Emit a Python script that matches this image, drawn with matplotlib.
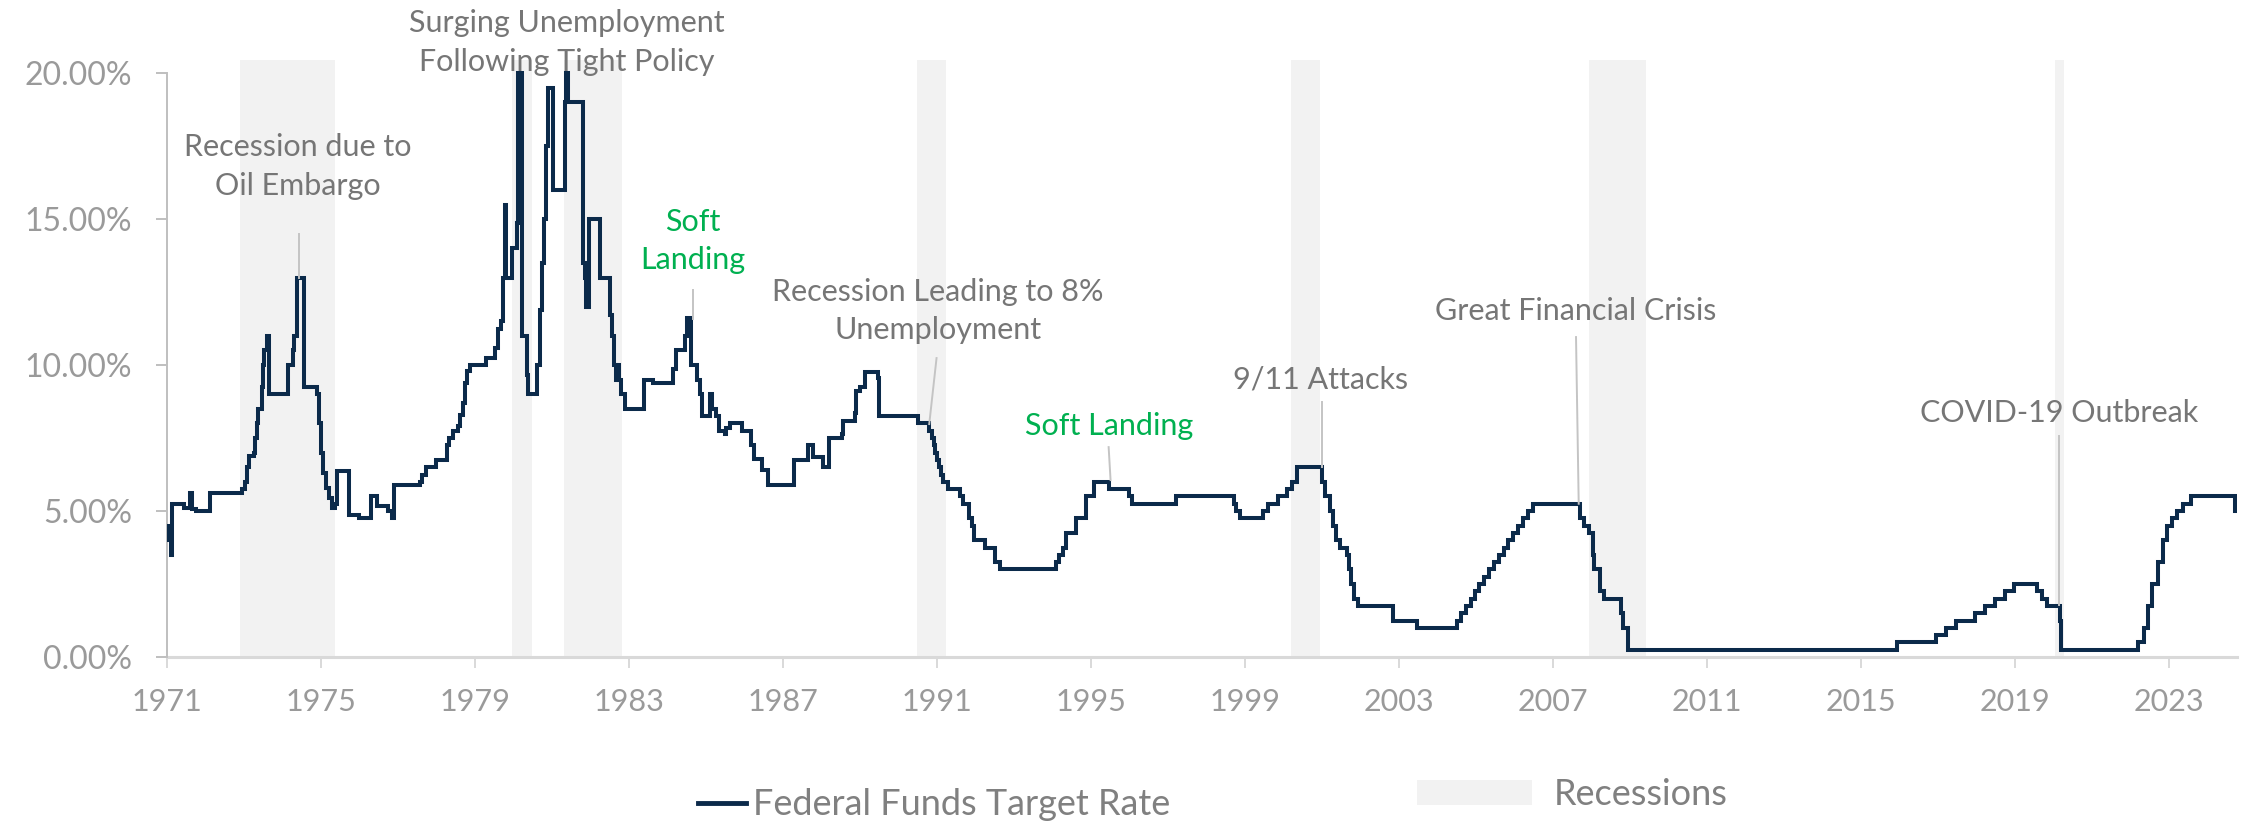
import matplotlib
matplotlib.use("Agg")
import matplotlib.pyplot as plt
from matplotlib.lines import Line2D
from matplotlib.patches import Patch

plt.rcParams["font.family"] = ["Lato", "DejaVu Sans"]

# change points of the target rate (decimal year, % level), held until next change
rate_dates = [
    1971.00, 1971.05, 1971.10, 1971.12, 1971.45, 1971.59, 1971.64, 1971.75,
    1972.12, 1972.96, 1973.03, 1973.08, 1973.14, 1973.25, 1973.29, 1973.34,
    1973.37, 1973.46, 1973.50, 1973.53, 1973.60, 1973.65, 1974.15, 1974.27,
    1974.30, 1974.37, 1974.55, 1974.89, 1974.95, 1975.00, 1975.05, 1975.12,
    1975.20, 1975.28, 1975.36, 1975.42, 1975.74, 1975.99, 1976.29, 1976.46,
    1976.75, 1976.85, 1976.90, 1977.57, 1977.62, 1977.72, 1978.00, 1978.28,
    1978.33, 1978.42, 1978.55, 1978.60, 1978.68, 1978.75, 1978.80, 1978.87,
    1979.29, 1979.52, 1979.60, 1979.68, 1979.73, 1979.77, 1979.80, 1979.97,
    1980.10, 1980.12, 1980.22, 1980.36, 1980.38, 1980.60, 1980.70, 1980.75,
    1980.80, 1980.85, 1980.90, 1981.04, 1981.33, 1981.37, 1981.41, 1981.80,
    1981.85, 1981.88, 1981.95, 1982.26, 1982.52, 1982.57, 1982.61, 1982.66,
    1982.70, 1982.74, 1982.80, 1982.90, 1983.40, 1983.63, 1984.15, 1984.22,
    1984.46, 1984.52, 1984.62, 1984.78, 1984.85, 1984.91, 1985.11, 1985.17,
    1985.26, 1985.34, 1985.50, 1985.52, 1985.62, 1985.94, 1986.18, 1986.26,
    1986.45, 1986.60, 1987.30, 1987.65, 1987.78, 1988.05, 1988.20, 1988.53,
    1988.57, 1988.86, 1988.90, 1989.00, 1989.12, 1989.46, 1989.49, 1990.50,
    1990.80, 1990.86, 1990.92, 1990.96, 1991.01, 1991.05, 1991.10, 1991.15,
    1991.28, 1991.59, 1991.67, 1991.84, 1991.91, 1991.95, 1992.26, 1992.50,
    1992.65, 1994.08, 1994.18, 1994.27, 1994.34, 1994.62, 1994.88, 1995.07,
    1995.48, 1995.99, 1996.06, 1997.21, 1998.71, 1998.78, 1998.86, 1999.48,
    1999.60, 1999.87, 2000.08, 2000.23, 2000.36, 2001.01, 2001.09, 2001.22,
    2001.29, 2001.36, 2001.48, 2001.65, 2001.70, 2001.76, 2001.83, 2001.93,
    2002.84, 2003.48, 2004.50, 2004.62, 2004.75, 2004.86, 2004.97, 2005.09,
    2005.22, 2005.34, 2005.48, 2005.60, 2005.72, 2005.84, 2005.96, 2006.09,
    2006.22, 2006.35, 2006.48, 2007.71, 2007.82, 2007.95, 2008.05, 2008.08,
    2008.21, 2008.32, 2008.77, 2008.83, 2008.96, 2015.95, 2016.95, 2017.21,
    2017.46, 2017.96, 2018.22, 2018.47, 2018.75, 2018.98, 2019.58, 2019.71,
    2019.84, 2020.17, 2020.21, 2022.21, 2022.35, 2022.46, 2022.57, 2022.72,
    2022.84, 2022.95, 2023.09, 2023.22, 2023.36, 2023.57, 2024.71, 2024.75,
]
rate_values = [
    4.50, 4.00, 3.50, 5.25, 5.12, 5.63, 5.06, 5.00,
    5.63, 5.75, 6.00, 6.50, 6.90, 7.00, 7.50, 8.00,
    8.50, 9.25, 10.00, 10.50, 11.00, 9.00, 10.00, 10.50,
    11.00, 13.00, 9.25, 9.00, 8.00, 7.00, 6.30, 5.80,
    5.45, 5.12, 5.25, 6.38, 4.88, 4.75, 5.50, 5.16,
    5.00, 4.75, 5.88, 6.00, 6.25, 6.50, 6.75, 7.25,
    7.50, 7.75, 7.90, 8.30, 8.70, 9.40, 9.80, 10.00,
    10.25, 10.60, 11.25, 11.50, 13.00, 15.50, 13.00, 14.00,
    14.85, 20.00, 11.00, 9.65, 9.00, 10.00, 11.90, 13.50,
    15.00, 17.50, 19.50, 16.00, 19.00, 20.00, 19.00, 13.50,
    13.00, 12.00, 15.00, 13.00, 11.70, 11.00, 10.00, 9.50,
    10.00, 9.50, 9.00, 8.50, 9.50, 9.38, 9.85, 10.50,
    11.00, 11.60, 10.00, 9.50, 9.00, 8.25, 9.00, 8.50,
    8.25, 7.75, 7.65, 7.85, 8.00, 7.75, 7.25, 6.80,
    6.40, 5.88, 6.75, 7.25, 6.85, 6.50, 7.50, 7.65,
    8.10, 8.35, 9.10, 9.25, 9.75, 9.56, 8.25, 8.00,
    7.75, 7.50, 7.25, 7.00, 6.75, 6.50, 6.25, 6.00,
    5.75, 5.50, 5.25, 4.75, 4.50, 4.00, 3.75, 3.25,
    3.00, 3.25, 3.50, 3.75, 4.25, 4.75, 5.50, 6.00,
    5.75, 5.50, 5.25, 5.50, 5.25, 5.00, 4.75, 5.00,
    5.25, 5.50, 5.75, 6.00, 6.50, 6.00, 5.50, 5.00,
    4.50, 4.00, 3.75, 3.50, 3.00, 2.50, 2.00, 1.75,
    1.25, 1.00, 1.25, 1.50, 1.75, 2.00, 2.25, 2.50,
    2.75, 3.00, 3.25, 3.50, 3.75, 4.00, 4.25, 4.50,
    4.75, 5.00, 5.25, 4.75, 4.50, 4.25, 3.50, 3.00,
    2.25, 2.00, 1.50, 1.00, 0.25, 0.50, 0.75, 1.00,
    1.25, 1.50, 1.75, 2.00, 2.25, 2.50, 2.25, 2.00,
    1.75, 1.25, 0.25, 0.50, 1.00, 1.75, 2.50, 3.25,
    4.00, 4.50, 4.75, 5.00, 5.25, 5.50, 5.00, 5.00,
]

recession_start = [1972.90, 1979.97, 1981.31, 1990.49, 2000.20, 2007.94, 2020.05]
recession_end = [1975.36, 1980.47, 1982.81, 1991.23, 2000.95, 2009.43, 2020.28]

year_ticks = list(range(1971, 2024, 4))
pct_ticks = [0, 5, 10, 15, 20]

# annotations: text, text centre (year, %), leader from (year, %) to (year, %)
notes = [
    ("Recession due to\nOil Embargo", 1974.40, 16.80, (1974.43, 14.5), (1974.43, 13.0), "grey"),
    ("Surging Unemployment\nFollowing Tight Policy", 1981.39, 21.05, None, None, "grey"),
    ("Soft\nLanding", 1984.66, 14.25, (1984.66, 12.57), (1984.66, 11.58), "green"),
    ("Recession Leading to 8%\nUnemployment", 1991.03, 11.85, (1990.99, 10.24), (1990.80, 7.98), "grey"),
    ("Soft Landing", 1995.47, 7.91, (1995.46, 7.19), (1995.51, 6.06), "green"),
    ("9/11 Attacks", 2000.97, 9.52, (2000.99, 8.73), (2000.99, 6.52), "grey"),
    ("Great Financial Crisis", 2007.60, 11.85, (2007.60, 10.96), (2007.67, 5.25), "grey"),
    ("COVID-19 Outbreak", 2020.16, 8.36, (2020.14, 7.58), (2020.14, 1.78), "grey"),
]

NAVY = "#0b2a4a"
SHADE = "#f2f2f2"
TEXT_GREY = "#767676"
TICK_GREY = "#9a9a9a"
GREEN = "#00b050"


def main() -> None:
    fig = plt.figure(figsize=(22.44, 8.22), dpi=100)
    ax = fig.add_axes([0.0744, 0.2007, 0.9225, 0.7263])

    for s, e in zip(recession_start, recession_end):
        ax.axvspan(s, e, color=SHADE, lw=0, zorder=0)

    ax.plot(rate_dates, rate_values, drawstyle="steps-post", color=NAVY,
            lw=2.9, solid_joinstyle="miter", zorder=3)

    note_colors = {"grey": TEXT_GREY, "green": GREEN}
    for text, tx, ty, p0, p1, col in notes:
        ax.text(tx, ty, text, ha="center", va="center", fontsize=22,
                color=note_colors[col], linespacing=1.45, clip_on=False, zorder=5)
        if p0 is not None:
            ax.plot([p0[0], p1[0]], [p0[1], p1[1]], color="#c4c4c4", lw=1.4, zorder=4)

    ax.set_xlim(1971.0, 2024.77)
    ax.set_ylim(0, 20.45)
    ax.set_xticks(year_ticks)
    ax.set_xticklabels([str(y) for y in year_ticks])
    ax.set_yticks(pct_ticks)
    ax.set_yticklabels([f"{v:.2f}%" for v in pct_ticks])

    for side in ("top", "right"):
        ax.spines[side].set_visible(False)
    ax.spines["left"].set_color("#bfbfbf")
    ax.spines["left"].set_linewidth(1.4)
    ax.spines["left"].set_bounds(0, 20)
    ax.spines["bottom"].set_color("#d9d9d9")
    ax.spines["bottom"].set_linewidth(2.2)
    ax.spines["bottom"].set_zorder(2)

    ax.tick_params(axis="x", length=8, width=1.4, color="#d9d9d9", labelsize=22,
                   labelcolor=TICK_GREY, pad=14)
    ax.tick_params(axis="y", length=8, width=1.4, color="#bfbfbf", labelsize=23,
                   labelcolor=TICK_GREY, pad=17)

    line_handle = Line2D([], [], color=NAVY, lw=3.5)
    fig.legend(handles=[line_handle], labels=["Federal Funds Target Rate"],
               loc="center left", bbox_to_anchor=(0.311, 0.021), frameon=False,
               fontsize=26, labelcolor="#808080", handlelength=1.34,
               handletextpad=0.2, borderpad=0, borderaxespad=0)
    patch_handle = Patch(facecolor=SHADE, edgecolor="none")
    fig.legend(handles=[patch_handle], labels=["Recessions"],
               loc="center left", bbox_to_anchor=(0.6315, 0.033), frameon=False,
               fontsize=26, labelcolor="#808080", handlelength=3.19,
               handleheight=0.68, handletextpad=0.6, borderpad=0, borderaxespad=0)

    fig.savefig("out.png", dpi=100)
    plt.close(fig)


if __name__ == "__main__":
    main()
